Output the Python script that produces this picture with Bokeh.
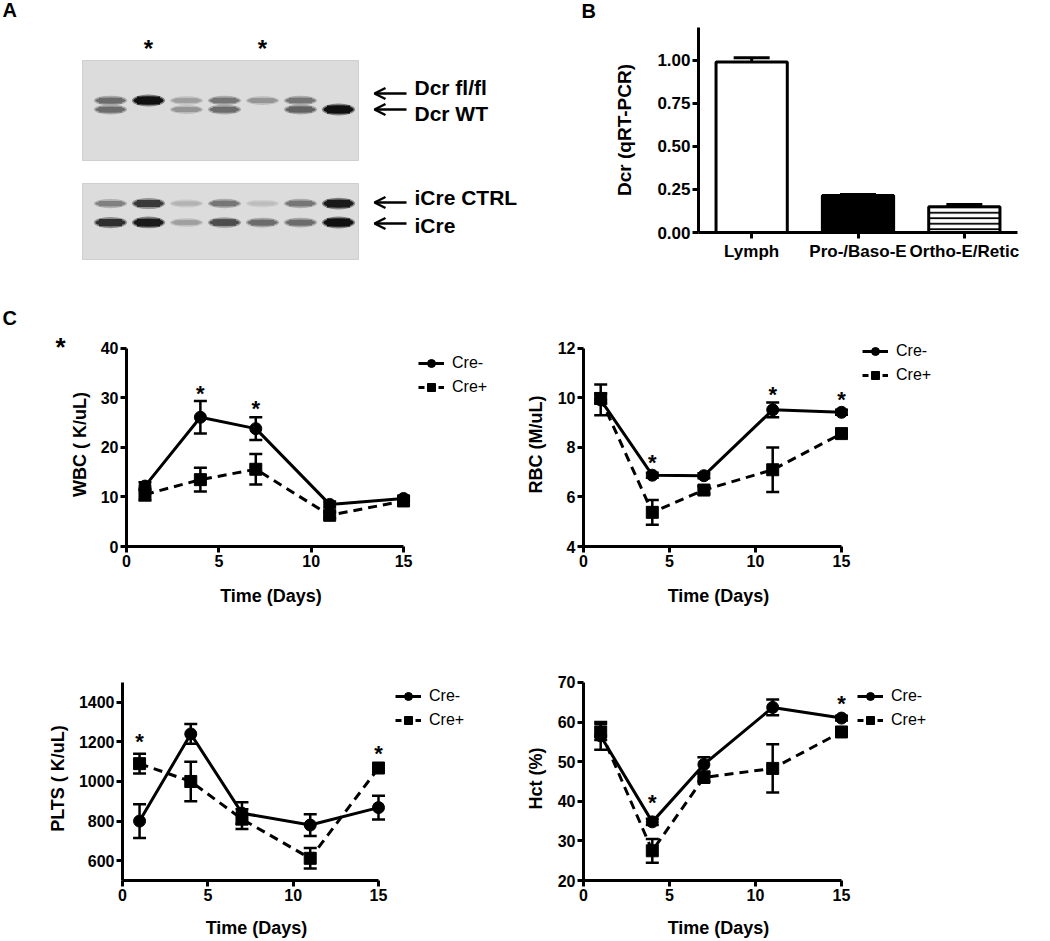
from bokeh.plotting import figure
from bokeh.models import (Range1d, FactorRange, FixedTicker, Whisker, TeeHead, Legend,
                          LegendItem, Label, Arrow, OpenHead, ColumnDataSource,
                          NumeralTickFormatter)
from bokeh.layouts import column, row
from bokeh.embed import file_html
from bokeh.resources import INLINE
from bokeh.core.properties import value

FONT = "Liberation Sans"

# ---------------- Panel A: genotyping gel (band intensities per lane) ----------------
lanes = [1, 2, 3, 4, 5, 6, 7]
gel_rows = ["Dcr fl/fl", "Dcr WT", "iCre CTRL", "iCre"]
flfl_band = [0.55, 1.0, 0.3, 0.5, 0.35, 0.5, 0.0]
wt_band = [0.55, 0.0, 0.35, 0.55, 0.0, 0.6, 1.0]
icre_ctrl_band = [0.45, 0.8, 0.2, 0.5, 0.15, 0.5, 0.95]
icre_band = [0.85, 0.95, 0.3, 0.7, 0.55, 0.55, 1.0]
starred_lanes = [2, 5]

# ---------------- Panel B: Dcr qRT-PCR ----------------
cell_types = ["Lymph", "Pro-/Baso-E", "Ortho-E/Retic"]
dcr_mean = [0.99, 0.215, 0.15]
dcr_sem = [0.025, 0.006, 0.012]
bar_fill = ["white", "black", "white"]
bar_hatch = [" ", " ", "-"]

# ---------------- Panel C: time course ----------------
days = [1, 4, 7, 11, 15]
series_names = ["Cre-", "Cre+"]

wbc_neg = [12.2, 26.1, 23.8, 8.5, 9.7]
wbc_neg_err = [0.8, 3.3, 2.3, 0.6, 0.5]
wbc_pos = [10.5, 13.5, 15.6, 6.3, 9.2]
wbc_pos_err = [1.2, 2.4, 3.1, 0.6, 0.8]
wbc_star_days = [4, 7]
wbc_star_y = [32.0, 28.8]

rbc_neg = [9.92, 6.88, 6.86, 9.52, 9.42]
rbc_neg_err = [0.62, 0.1, 0.1, 0.3, 0.1]
rbc_pos = [9.98, 5.38, 6.28, 7.1, 8.56]
rbc_pos_err = [0.2, 0.5, 0.15, 0.9, 0.1]
rbc_star_days = [4, 11, 15]
rbc_star_y = [7.6, 10.36, 10.12]

plts_neg = [800, 1240, 840, 780, 868]
plts_neg_err = [85, 50, 55, 55, 60]
plts_pos = [1090, 1000, 810, 612, 1068]
plts_pos_err = [50, 100, 50, 52, 12]
plts_star_days = [1, 15]
plts_star_y = [1225, 1165]

hct_neg = [56.5, 34.8, 49.3, 63.7, 61.0]
hct_neg_err = [3.5, 0.8, 1.8, 2.0, 0.6]
hct_pos = [57.5, 27.5, 46.0, 48.3, 57.5]
hct_pos_err = [2.0, 3.0, 1.0, 6.1, 0.6]
hct_star_days = [4, 15]
hct_star_y = [41, 66]


def style_axes(p, tick_size, label_size, xstand, ystand):
    for ax in p.axis:
        ax.axis_line_width = 3
        ax.axis_line_color = "black"
        ax.major_tick_line_width = 3
        ax.major_tick_line_color = "black"
        ax.major_tick_out = 6
        ax.major_tick_in = 0
        ax.minor_tick_line_color = None
        ax.major_label_text_font = FONT
        ax.major_label_text_font_size = tick_size
        ax.major_label_text_font_style = "bold"
        ax.major_label_text_color = "black"
        ax.major_label_standoff = 2
        ax.axis_label_text_font = FONT
        ax.axis_label_text_font_size = label_size
        ax.axis_label_text_font_style = "bold"
        ax.axis_label_text_color = "black"
    p.xaxis.axis_label_standoff = xstand
    p.yaxis.axis_label_standoff = ystand
    p.xgrid.grid_line_color = None
    p.ygrid.grid_line_color = None
    p.outline_line_color = None


def bare(p):
    p.axis.visible = False
    p.xgrid.grid_line_color = None
    p.ygrid.grid_line_color = None
    p.outline_line_color = None


def gray(level):
    bg, dark = 220, 10
    v = int(round(bg + (dark - bg) * level))
    return "#%02x%02x%02x" % (v, v, v)


def letter(p, x, y, txt, size="20px", align="left"):
    p.text(x=[x], y=[y], text=[txt], text_font=value(FONT), text_font_size=size,
           text_font_style="bold", text_align=align, text_baseline="top", text_color="black")


TOTAL_W = 1045
ROW1_H, ROW2_H, ROW3_H = 272, 336, 332

# ================= Panel A (also carries the "B" letter) =================
WA = 600
pa = figure(width=WA, height=ROW1_H, x_range=Range1d(0, WA), y_range=Range1d(ROW1_H, 0),
            output_backend="svg", toolbar_location=None, min_border=0)
bare(pa)

gel_left, gel_right = 82, 358
gel_top = [60, 183]
gel_bottom = [160, 259]
lane_x0, lane_step = 110, 38
band_y = [100, 109, 203, 222]
arrow_y = [93, 109, 202, 223]
label_y = [87, 113, 197, 225]

pa.quad(left=[gel_left] * 2, right=[gel_right] * 2, top=gel_top, bottom=gel_bottom,
        fill_color="#dcdcdc", line_color="#cfcfcf", line_width=1)

for r, inten in enumerate([flfl_band, wt_band, icre_ctrl_band, icre_band]):
    xs = [lane_x0 + lane_step * (ln - 1) for ln, v in zip(lanes, inten) if v > 0]
    vs = [v for v in inten if v > 0]
    ys = [band_y[r]] * len(xs)
    core_h = [3 + 5 * v for v in vs]
    halo_h = [h + 4 for h in core_h]
    pa.ellipse(x=xs, y=ys, width=33, height=halo_h, fill_color=[gray(0.45 * v) for v in vs],
               line_color=None)
    pa.ellipse(x=xs, y=ys, width=30, height=core_h, fill_color=[gray(0.97 * v) for v in vs],
               line_color=None)
    pa.rect(x=xs, y=ys, width=23, height=core_h, fill_color=[gray(0.97 * v) for v in vs],
            line_color=None)

pa.text(x=[lane_x0 + lane_step * (ln - 1) for ln in starred_lanes], y=[48] * len(starred_lanes),
        text=["*"] * len(starred_lanes), text_font=value(FONT), text_font_size="24px",
        text_font_style="bold", text_align="center", text_baseline="middle")

for i, name in enumerate(gel_rows):
    pa.add_layout(Arrow(x_start=406, y_start=arrow_y[i], x_end=374, y_end=arrow_y[i],
                        line_width=2.5, line_color="black",
                        end=OpenHead(size=11, line_width=2.5, line_color="black")))
    pa.add_layout(Label(x=414, y=label_y[i], text=name, text_font=FONT, text_font_size="21px",
                        text_font_style="bold", text_baseline="middle", text_align="left",
                        text_color="black"))

letter(pa, 2, -2, "A")
letter(pa, 581, -1, "B")

# ================= Panel B =================
WB = TOTAL_W - WA
pb = figure(width=WB, height=ROW1_H, x_range=FactorRange(*cell_types, range_padding=0),
            y_range=Range1d(0, 1.19), min_border_left=98, min_border_right=28,
            min_border_top=27, min_border_bottom=40, output_backend="svg",
            toolbar_location=None)
src_b = ColumnDataSource(dict(x=cell_types, top=dcr_mean, fill=bar_fill, hatch=bar_hatch,
                              upper=[m + s for m, s in zip(dcr_mean, dcr_sem)],
                              lower=[m - s for m, s in zip(dcr_mean, dcr_sem)]))
pb.vbar(x="x", top="top", width=0.67, source=src_b, fill_color="fill", line_color="black",
        line_width=3, hatch_pattern="hatch", hatch_color="black", hatch_scale=5.5,
        hatch_weight=1.8)
pb.add_layout(Whisker(source=src_b, base="x", upper="upper", lower="lower", line_width=3,
                      line_color="black",
                      upper_head=TeeHead(size=36, line_width=3),
                      lower_head=TeeHead(size=36, line_width=3)))
pb.yaxis.ticker = FixedTicker(ticks=[0, 0.25, 0.5, 0.75, 1.0])
pb.yaxis.formatter = NumeralTickFormatter(format="0.00")
pb.yaxis.axis_label = "Dcr (qRT-PCR)"
style_axes(pb, "17px", "19px", 5, 19)
pb.xaxis.major_label_text_font_size = "17px"
pb.xaxis.major_label_standoff = 3


# ================= Panel C =================
PAD = 6     # px of headroom above the top tick (axis line stops at the top tick)
EXTRA = 12  # px of frame beyond day 15 so the last markers are not clipped


def time_panel(H, left, axis_top, axis_bottom, px_per_day, y0, y1, yticks, ylabel,
               neg, neg_err, pos, pos_err, star_days, star_y, xstand, ystand):
    frame_w = 15 * px_per_day + EXTRA
    W = int(round(left + frame_w))
    top = axis_top - PAD
    bottom = H - axis_bottom
    frame_h = axis_bottom - top
    y1_ext = y0 + (y1 - y0) * frame_h / (frame_h - PAD)
    p = figure(width=W, height=H, min_border_left=left, min_border_right=0,
               min_border_top=top, min_border_bottom=bottom,
               x_range=Range1d(0, (W - left) / px_per_day), y_range=Range1d(y0, y1_ext),
               output_backend="svg", toolbar_location=None)
    p.line(days, neg, line_width=3, line_color="black")
    p.line(days, pos, line_width=3, line_color="black", line_dash="9 6")
    for vals, errs in ((neg, neg_err), (pos, pos_err)):
        s = ColumnDataSource(dict(x=days, upper=[v + e for v, e in zip(vals, errs)],
                                  lower=[v - e for v, e in zip(vals, errs)]))
        p.add_layout(Whisker(source=s, base="x", upper="upper", lower="lower",
                             line_width=2.5, line_color="black",
                             upper_head=TeeHead(size=13, line_width=2.5),
                             lower_head=TeeHead(size=13, line_width=2.5)))
    p.scatter(days, neg, marker="circle", size=12, color="black")
    p.scatter(days, pos, marker="square", size=12, color="black")
    p.text(x=star_days, y=star_y, text=["*"] * len(star_days), text_font=value(FONT),
           text_font_size="22px", text_font_style="bold", text_align="center",
           text_baseline="middle", y_offset=5)
    p.xaxis.bounds = (0, 15)
    p.yaxis.bounds = (y0, y1)
    p.xaxis.ticker = FixedTicker(ticks=[0, 5, 10, 15])
    p.yaxis.ticker = FixedTicker(ticks=yticks)
    p.xaxis.axis_label = "Time (Days)"
    p.yaxis.axis_label = ylabel
    style_axes(p, "16px", "18px", xstand, ystand)
    return p


def legend_panel(W, H, loc, neg, pos):
    # legend-only figure to the right of each plot; the series are drawn here too,
    # but outside its visible range, so only the legend entries show
    lf = figure(width=W, height=H, x_range=Range1d(-20, -19), y_range=Range1d(0, 1),
                output_backend="svg", toolbar_location=None, min_border=0)
    bare(lf)
    r1 = lf.line(days, neg, line_width=3, line_color="black")
    s1 = lf.scatter(days, neg, marker="circle", size=12, color="black")
    r2 = lf.line(days, pos, line_width=3, line_color="black", line_dash="6 4")
    s2 = lf.scatter(days, pos, marker="square", size=12, color="black")
    leg = Legend(items=[LegendItem(label=series_names[0], renderers=[r1, s1]),
                        LegendItem(label=series_names[1], renderers=[r2, s2])],
                 location=loc, glyph_width=26, glyph_height=20, label_height=20,
                 spacing=4, padding=0, margin=0, border_line_alpha=0,
                 background_fill_alpha=0, label_text_font=FONT, label_text_color="black",
                 label_text_font_size="16px", label_standoff=8)
    lf.add_layout(leg)
    return lf


# strip at the left of row 2 carrying the "C" letter and the stray asterisk
WS = 66
strip = figure(width=WS, height=ROW2_H, x_range=Range1d(0, WS), y_range=Range1d(ROW2_H, 0),
               output_backend="svg", toolbar_location=None, min_border=0)
bare(strip)
letter(strip, 2, 34, "C")
letter(strip, 60, 59, "*", size="26px", align="center")

c1 = time_panel(ROW2_H, 59, 76, 276, 278 / 15, 0, 40, [0, 10, 20, 30, 40],
                "WBC ( K/uL)", wbc_neg, wbc_neg_err, wbc_pos, wbc_pos_err,
                wbc_star_days, wbc_star_y, 16, 8)
l1 = legend_panel(520 - WS - c1.width, ROW2_H, (3, 211), wbc_neg, wbc_pos)

c2 = time_panel(ROW2_H, 63, 76, 276, 258 / 15, 4, 12, [4, 6, 8, 10, 12],
                "RBC (M/uL)", rbc_neg, rbc_neg_err, rbc_pos, rbc_pos_err,
                rbc_star_days, rbc_star_y, 16, 9)
l2 = legend_panel(TOTAL_W - 520 - c2.width, ROW2_H, (9, 223), rbc_neg, rbc_pos)

c3 = time_panel(ROW3_H, 122, 74, 274, 256 / 15, 500, 1500, [600, 800, 1000, 1200, 1400],
                "PLTS ( K/uL)", plts_neg, plts_neg_err, plts_pos, plts_pos_err,
                plts_star_days, plts_star_y, 14, 8)
l3 = legend_panel(520 - c3.width, ROW3_H, (5, 210), plts_neg, plts_pos)

c4 = time_panel(ROW3_H, 63, 74, 274, 258 / 15, 20, 70, [20, 30, 40, 50, 60, 70],
                "Hct (%)", hct_neg, hct_neg_err, hct_pos, hct_pos_err,
                hct_star_days, hct_star_y, 14, 9)
l4 = legend_panel(TOTAL_W - 520 - c4.width, ROW3_H, (4, 210), hct_neg, hct_pos)

layout = column(row(column(pa), column(pb)),
                row(column(strip), column(c1), column(l1), column(c2), column(l2)),
                row(column(c3), column(l3), column(c4), column(l4)))
open("out.html", "w").write(file_html(layout, INLINE))
